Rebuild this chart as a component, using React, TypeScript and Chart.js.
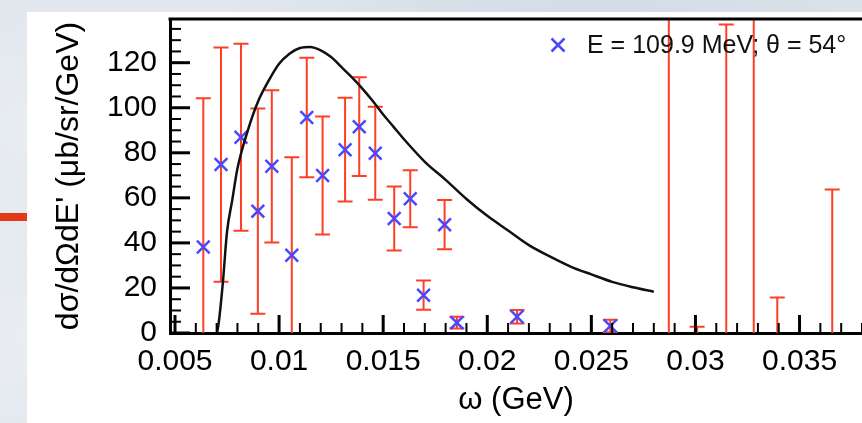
import React, { useEffect, useRef } from 'react';
import { Chart, registerables } from 'chart.js';

Chart.register(...registerables);

// ---- data ----
const omega = [0.00636, 0.00721, 0.00817, 0.00898, 0.00965, 0.01061, 0.01133, 0.01209, 0.01317, 0.01385, 0.01462, 0.01553, 0.0163, 0.01694, 0.01795, 0.01854, 0.02143, 0.02591, 0.02872, 0.03008, 0.03148, 0.0328, 0.03393, 0.03657];
const xsec = [38.2, 74.8, 86.9, 54.1, 74.0, 34.5, 95.7, 69.9, 81.4, 91.6, 79.8, 50.8, 59.6, 16.8, 48.1, 4.6, 7.2, 3.1, -40, -20, -20, -40, -25, -30];
const xsecErr = [66, 52, 41.5, 45.6, 33.8, 43.5, 26.5, 26.2, 23, 21.9, 20.6, 14.2, 12.7, 6.5, 10.9, 2.6, 3, 2.8, 200, 22.8, 157, 200, 40.8, 93.7];

const modelOmega = [0.00702, 0.0071, 0.0073, 0.0075, 0.00775, 0.008, 0.0085, 0.009, 0.0095, 0.01, 0.0105, 0.011, 0.0115, 0.012, 0.0125, 0.013, 0.0135, 0.014, 0.0145, 0.015, 0.0155, 0.016, 0.017, 0.018, 0.019, 0.02, 0.021, 0.022, 0.023, 0.024, 0.025, 0.026, 0.027, 0.028];
const modelXsec = [0, 4.5, 22.5, 45, 59, 73, 90, 103, 112, 119.5, 124, 126.5, 127, 125.5, 122.5, 118, 113.5, 108.5, 103, 97, 91.5, 86, 76, 68, 59.5, 52, 45.5, 39, 34, 29.5, 26, 22.7, 20.3, 18.3];

const xTicks = [0.005, 0.01, 0.015, 0.02, 0.025, 0.03, 0.035];
const xTickLabels = ['0.005', '0.01', '0.015', '0.02', '0.025', '0.03', '0.035'];
const yTicks = [0, 20, 40, 60, 80, 100, 120];
const yTickLabels = ['0', '20', '40', '60', '80', '100', '120'];

const legendText = 'E = 109.9 MeV; θ = 54°';
const xTitle = 'ω (GeV)';
const yTitle = "dσ/dΩdE' (μb/sr/GeV)";

const FONT = "'Liberation Sans', Arial, Helvetica, sans-serif";
const BLUE = 'rgb(72,72,255)';
const RED = 'rgb(255,62,38)';

const X_MIN = 0.00476;
const X_MAX = 0.0380;
const Y_MIN = 0;
const Y_MAX = 139.4;
const X_MINOR = 0.001;
const Y_MINOR = 5;

const errorBarPlugin = {
  id: 'errorBars',
  beforeDatasetsDraw(chart: any) {
    const { ctx, chartArea: a, scales } = chart;
    const x = scales.x;
    const y = scales.y;
    ctx.save();
    ctx.beginPath();
    ctx.rect(a.left, a.top, a.right - a.left, a.bottom - a.top);
    ctx.clip();
    ctx.strokeStyle = RED;
    ctx.lineWidth = 2;
    const cap = 7.5;
    for (let i = 0; i < omega.length; i++) {
      const px = x.getPixelForValue(omega[i]);
      const pTop = y.getPixelForValue(xsec[i] + xsecErr[i]);
      const pBot = y.getPixelForValue(xsec[i] - xsecErr[i]);
      ctx.beginPath();
      ctx.moveTo(px, pTop);
      ctx.lineTo(px, pBot);
      ctx.moveTo(px - cap, pTop);
      ctx.lineTo(px + cap, pTop);
      ctx.moveTo(px - cap, pBot);
      ctx.lineTo(px + cap, pBot);
      ctx.stroke();
    }
    ctx.restore();
  },
};

const framePlugin = {
  id: 'frameTicks',
  afterDatasetsDraw(chart: any) {
    const { ctx, chartArea: a, scales } = chart;
    const x = scales.x;
    const y = scales.y;
    ctx.save();
    ctx.strokeStyle = '#000';
    ctx.lineWidth = 2;
    const eps = 1e-9;
    for (let v = Math.ceil(X_MIN / X_MINOR) * X_MINOR; v <= X_MAX + eps; v += X_MINOR) {
      if (xTicks.some((t) => Math.abs(t - v) < 1e-7)) continue;
      const px = x.getPixelForValue(v);
      ctx.beginPath();
      ctx.moveTo(px, a.bottom);
      ctx.lineTo(px, a.bottom - 10);
      ctx.stroke();
    }
    for (let v = Y_MIN; v <= Y_MAX + eps; v += Y_MINOR) {
      if (yTicks.includes(v)) continue;
      const py = y.getPixelForValue(v);
      ctx.beginPath();
      ctx.moveTo(a.left, py);
      ctx.lineTo(a.left + 11, py);
      ctx.stroke();
    }
    ctx.lineWidth = 3;
    xTicks.forEach((v) => {
      const px = x.getPixelForValue(v);
      ctx.beginPath();
      ctx.moveTo(px, a.bottom);
      ctx.lineTo(px, a.bottom - 18);
      ctx.stroke();
    });
    yTicks.forEach((v) => {
      const py = y.getPixelForValue(v);
      ctx.beginPath();
      ctx.moveTo(a.left, py);
      ctx.lineTo(a.left + 20, py);
      ctx.stroke();
    });
    ctx.beginPath();
    ctx.moveTo(a.left - 1.5, a.top);
    ctx.lineTo(a.right, a.top);
    ctx.stroke();
    ctx.restore();
  },
  afterDraw(chart: any) {
    const { ctx, chartArea: a } = chart;
    ctx.save();
    const cx = a.right - 304;
    const cy = a.top + 26;
    const h = 6.5;
    ctx.strokeStyle = BLUE;
    ctx.lineWidth = 2.5;
    ctx.beginPath();
    ctx.moveTo(cx - h, cy - h);
    ctx.lineTo(cx + h, cy + h);
    ctx.moveTo(cx - h, cy + h);
    ctx.lineTo(cx + h, cy - h);
    ctx.stroke();
    ctx.fillStyle = '#111';
    ctx.font = `25px ${FONT}`;
    ctx.textBaseline = 'middle';
    ctx.textAlign = 'left';
    ctx.fillText(legendText, cx + 29, cy + 1);
    ctx.restore();
  },
};

export default function App() {
  const ref = useRef<HTMLCanvasElement | null>(null);

  useEffect(() => {
    if (!ref.current) return;
    const chart = new Chart(ref.current, {
      type: 'scatter',
      data: {
        datasets: [
          {
            type: 'line',
            label: 'model',
            data: modelOmega.map((w, i) => ({ x: w, y: modelXsec[i] })),
            borderColor: '#111',
            borderWidth: 2.5,
            pointRadius: 0,
            cubicInterpolationMode: 'monotone',
            fill: false,
          } as any,
          {
            type: 'scatter',
            label: legendText,
            data: omega.map((w, i) => ({ x: w, y: xsec[i] })),
            pointStyle: 'crossRot',
            pointRadius: 9,
            borderColor: BLUE,
            backgroundColor: BLUE,
            borderWidth: 2.5,
          } as any,
        ],
      },
      options: {
        animation: false,
        responsive: true,
        maintainAspectRatio: false,
        layout: { autoPadding: false, padding: { top: 7, left: 0, right: 0, bottom: 0 } },
        plugins: {
          legend: { display: false },
          tooltip: { enabled: false },
        },
        scales: {
          x: {
            type: 'linear',
            min: X_MIN,
            max: X_MAX,
            afterBuildTicks: (s: any) => {
              s.ticks = xTicks.map((v) => ({ value: v }));
            },
            afterFit: (s: any) => {
              s.height = 90;
              s.paddingLeft = 0;
              s.paddingRight = 0;
            },
            grid: { display: false, drawTicks: false },
            border: { display: true, color: '#000', width: 3 },
            ticks: {
              autoSkip: false,
              maxRotation: 0,
              padding: 11,
              color: '#000',
              font: { family: FONT, size: 30 },
              callback: (_v: any, i: number) => xTickLabels[i],
            },
            title: {
              display: true,
              text: xTitle,
              color: '#000',
              font: { family: FONT, size: 31 },
              padding: { top: 0, bottom: 4 },
            },
          },
          y: {
            type: 'linear',
            min: Y_MIN,
            max: Y_MAX,
            afterBuildTicks: (s: any) => {
              s.ticks = yTicks.map((v) => ({ value: v }));
            },
            afterFit: (s: any) => {
              s.width = 143;
              s.paddingTop = 0;
              s.paddingBottom = 0;
            },
            grid: { display: false, drawTicks: false },
            border: { display: true, color: '#000', width: 3 },
            ticks: {
              autoSkip: false,
              padding: 13,
              color: '#000',
              font: { family: FONT, size: 30 },
              callback: (_v: any, i: number) => yTickLabels[i],
            },
            title: {
              display: true,
              text: yTitle,
              color: '#000',
              font: { family: FONT, size: 32 },
              padding: { top: 23, bottom: 0 },
            },
          },
        },
      } as any,
      plugins: [errorBarPlugin, framePlugin],
    });
    return () => chart.destroy();
  }, []);

  return (
    <div
      style={{
        position: 'fixed',
        left: 0,
        top: 0,
        width: 862,
        height: 423,
        overflow: 'hidden',
        backgroundColor: '#dfe5ec',
        backgroundImage:
          'radial-gradient(ellipse at 20% 30%, rgba(255,255,255,0.45), rgba(255,255,255,0) 40%), radial-gradient(ellipse at 70% 5%, rgba(200,210,222,0.5), rgba(200,210,222,0) 50%), radial-gradient(ellipse at 5% 80%, rgba(255,255,255,0.35), rgba(255,255,255,0) 35%)',
      }}
    >
      <div
        style={{
          position: 'absolute',
          left: 0,
          top: 213,
          width: 27,
          height: 8,
          background: '#e23a17',
        }}
      />
      <div
        style={{
          position: 'absolute',
          left: 27,
          top: 12,
          width: 835,
          height: 411,
          background: '#fff',
        }}
      >
        <canvas ref={ref} style={{ width: '100%', height: '100%', display: 'block' }} />
      </div>
    </div>
  );
}
